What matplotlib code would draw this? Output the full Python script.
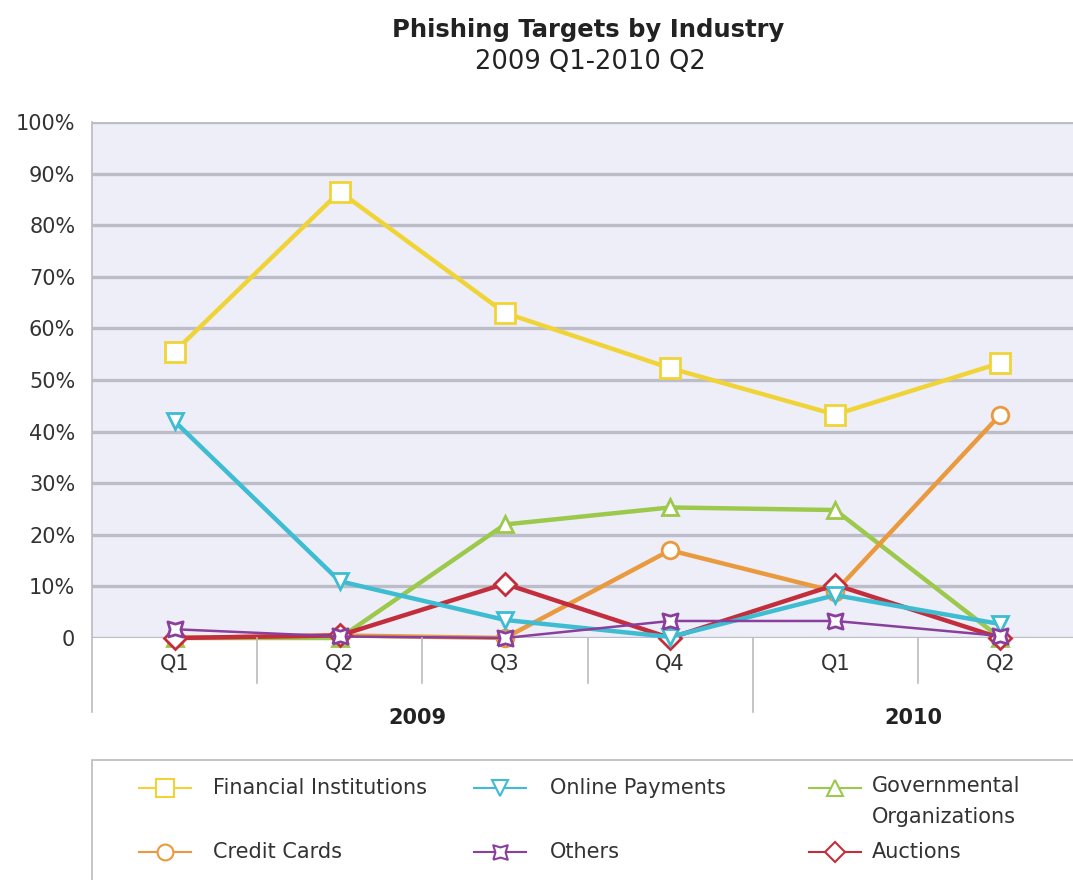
import numpy as np
import matplotlib
matplotlib.use("Agg")
import matplotlib.pyplot as plt
from matplotlib.lines import Line2D

# quarters and yearly groups
quarters = ["Q1", "Q2", "Q3", "Q4", "Q1", "Q2"]
years = ["2009", "2010"]
year_spans = [(0, 3), (4, 5)]

# share of phishing targets per quarter (%)
financial = [55.5, 86.5, 63.0, 52.3, 43.3, 53.3]
online_payments = [42.0, 11.0, 3.5, 0.2, 8.3, 2.7]
governmental = [0.0, 0.0, 22.0, 25.3, 24.8, 0.0]
credit_cards = [0.0, 0.5, 0.0, 17.0, 9.0, 43.3]
others = [1.7, 0.3, 0.0, 3.3, 3.3, 0.4]
auctions = [0.0, 0.5, 10.5, 0.0, 10.3, 0.0]

plt.rcParams["font.family"] = ["DejaVu Sans"]

# concave square used for the "Others" series
pinch = [(-1, -1), (0, -0.7), (1, -1), (0.7, 0), (1, 1), (0, 0.7),
         (-1, 1), (-0.7, 0), (-1, -1)]

series = [
    ("Governmental\nOrganizations", governmental, "#9CC84B", "^", 12, 3.2),
    ("Credit Cards", credit_cards, "#EA9A3E", "o", 12, 3.2),
    ("Auctions", auctions, "#C22E3C", "D", 11, 3.2),
    ("Online Payments", online_payments, "#3DBCD2", "v", 12, 3.2),
    ("Others", others, "#8A3F9C", pinch, 11, 1.8),
    ("Financial Institutions", financial, "#F0D437", "s", 14, 3.2),
]

fig = plt.figure(figsize=(10.73, 8.8), dpi=100)
W, H = 1073, 880
ax = fig.add_axes([92 / W, 1 - 638 / H, (1083 - 92) / W, (638 - 122) / H])
ax.set_facecolor("#EEEEF8")

x = np.arange(len(quarters))
style = {}
for name, vals, color, marker, ms, lw in series:
    ax.plot(x, vals, color=color, lw=lw, marker=marker, ms=ms,
            mfc="white", mec=color, mew=2, clip_on=False,
            solid_joinstyle="round")
    style[name] = (color, marker, ms)

ax.set_xlim(-0.5, 5.5)
ax.set_ylim(0, 100)
ax.set_yticks(np.arange(0, 101, 10))
ax.set_yticklabels(["0"] + [f"{v}%" for v in range(10, 101, 10)])
ax.set_xticks(x)
ax.set_xticklabels(quarters)
ax.tick_params(axis="both", length=0, labelsize=15, colors="#333333")
ax.tick_params(axis="x", pad=11)
ax.tick_params(axis="y", pad=12)
ax.grid(axis="y", color="#BDBDC9", lw=2.4)
ax.set_axisbelow(True)
for s in ax.spines.values():
    s.set_visible(False)

# left rule and quarter separators below the plot
tr = ax.get_xaxis_transform()
ax.plot([-0.5, -0.5], [1.0, -0.143], color="#BBBBBB", lw=1.2,
        transform=tr, clip_on=False)
for sep in [0.5, 1.5, 2.5, 4.5]:
    ax.plot([sep, sep], [0, -0.087], color="#BBBBBB", lw=1.2,
            transform=tr, clip_on=False)
ax.plot([3.5, 3.5], [0, -0.143], color="#BBBBBB", lw=1.2,
        transform=tr, clip_on=False)

for yr, (a, b) in zip(years, year_spans):
    ax.text((a + b) / 2 - 0.03, -0.155, yr, transform=tr, ha="center",
            va="center", fontsize=15, fontweight="bold", color="#222222")

fig.text(588 / W, 1 - 30 / H, "Phishing Targets by Industry", ha="center",
         va="center", fontsize=17.5, fontweight="bold", color="#222222")
fig.text(590 / W, 1 - 62 / H, "2009 Q1-2010 Q2", ha="center", va="center",
         fontsize=18.5, color="#222222")

# legend laid out by hand in a 3x2 grid
legend_rows = [["Financial Institutions", "Online Payments",
                "Governmental\nOrganizations"],
               ["Credit Cards", "Others", "Auctions"]]
col_x = [165, 500, 835]
text_x = [213, 550, 872]
row_y = [788, 852]
for r, row in enumerate(legend_rows):
    for c, name in enumerate(row):
        color, marker, ms = style[name]
        yc = 1 - row_y[r] / H
        fig.add_artist(Line2D([(col_x[c] - 26) / W, (col_x[c] + 26) / W],
                              [yc, yc], transform=fig.transFigure,
                              color=color, lw=1.5))
        fig.add_artist(Line2D([col_x[c] / W], [yc], transform=fig.transFigure,
                              marker=marker, ms=ms * 0.95, mfc="white",
                              mec=color, mew=1.5, ls="none"))
        if "\n" in name:
            fig.text(text_x[c] / W, 1 - (row_y[r] - 12) / H, name, ha="left",
                     va="top", fontsize=15, color="#333333", linespacing=1.7)
        else:
            fig.text(text_x[c] / W, yc, name, ha="left", va="center",
                     fontsize=15, color="#333333")

# legend frame running off the right and bottom edges
fig.add_artist(plt.Rectangle((92 / W, -0.05), 1.0, (1 - 760 / H) + 0.05,
                             transform=fig.transFigure, fill=False,
                             ec="#BBBBBB", lw=1.2))

fig.savefig("out.png", dpi=100)
